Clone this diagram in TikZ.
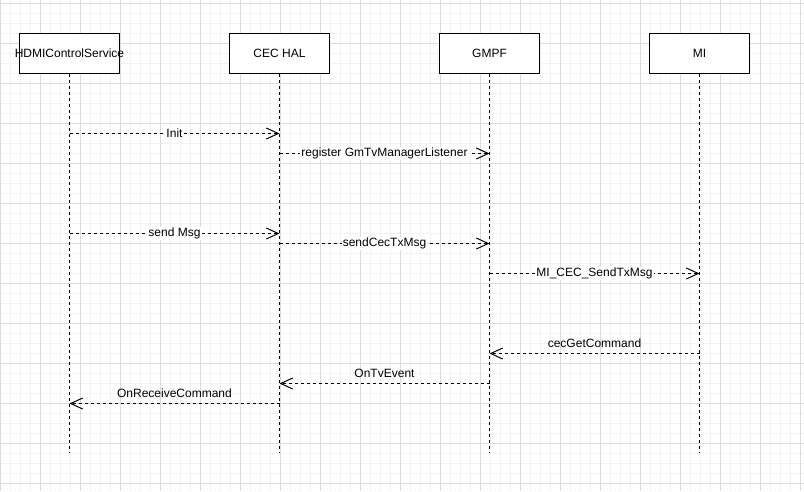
\documentclass[tikz,border=0pt]{standalone}
\usepackage{fontspec}
\setmainfont{Liberation Sans}
\usetikzlibrary{arrows.meta}

\begin{document}
\begin{tikzpicture}[x=1pt,y=-1pt,
		gridminor/.style={draw=black!5,line width=1pt},
		gridmajor/.style={draw=black!14,line width=1pt},
		actorbox/.style={draw,line width=1pt,fill=white,minimum width=100pt,minimum height=40pt,inner sep=0pt,font=\fontsize{12}{14}\selectfont},
		lifeline/.style={line width=1pt,dash pattern=on 3pt off 3pt},
		msgline/.style={line width=1pt,dash pattern=on 3pt off 3pt,-{Straight Barb[length=12pt,width=11pt,line width=1pt]}},
		msglabel/.style={font=\fontsize{12}{14}\selectfont,inner sep=1pt}]
				\useasboundingbox (0,0) rectangle (804,491);
				%
				% background grid
				\foreach \x in {0,10,...,800} \draw[gridminor] (\x,0) -- (\x,491);
				\foreach \y in {3,13,...,483} \draw[gridminor] (0,\y) -- (804,\y);
				\foreach \x in {0,40,...,800} \draw[gridmajor] (\x,0) -- (\x,491);
				\foreach \y in {3,43,...,483} \draw[gridmajor] (0,\y) -- (804,\y);
				%
				% macro: actor name, x position, label
				\newcommand{\actor}[3]{
				  \node[actorbox] (#1) at (#2,53.5) {\makebox[100pt]{#3}};
				  \coordinate (#1-end) at (#2,453);
				  \draw[lifeline] (#1) -- (#1-end);
				}
				%
				% macro: call from, to, height, label, name
				\newcommand{\callmsg}[5]{
				  \coordinate (lvl) at (0,#3);
				  \coordinate (#5-a) at (#1 |- lvl);
				  \coordinate (#5-b) at (#2 |- lvl);
				  \draw[msgline] (#5-a) -- node[msglabel,fill=white] (#5) {#4} (#5-b);
				}
				%
				% macro: reply from, to, height, label, name
				\newcommand{\replymsg}[5]{
				  \coordinate (lvl) at (0,#3);
				  \coordinate (#5-a) at (#1 |- lvl);
				  \coordinate (#5-b) at (#2 |- lvl);
				  \draw[msgline] (#5-a) -- node[msglabel,yshift=10pt] (#5) {#4} (#5-b);
				}
				%
				\actor{hdmi}{69.5}{HDMIControlService}
				\actor{hal}{279.5}{CEC HAL}
				\actor{gmpf}{489.5}{GMPF}
				\actor{mi}{699.5}{MI}
				%
				\callmsg{hdmi}{hal}{133.5}{Init}{init}
				\callmsg{hal}{gmpf}{153.5}{register GmTvManagerListener}{reg}
				\callmsg{hdmi}{hal}{233.5}{send Msg}{send}
				\callmsg{hal}{gmpf}{243.5}{sendCecTxMsg}{sendcec}
				\callmsg{gmpf}{mi}{273.5}{MI\_CEC\_SendTxMsg}{mitx}
				%
				\replymsg{mi}{gmpf}{353.5}{cecGetCommand}{getcmd}
				\replymsg{gmpf}{hal}{383.5}{OnTvEvent}{tvevent}
				\replymsg{hal}{hdmi}{403.5}{OnReceiveCommand}{recv}
			\end{tikzpicture}
\end{document}
